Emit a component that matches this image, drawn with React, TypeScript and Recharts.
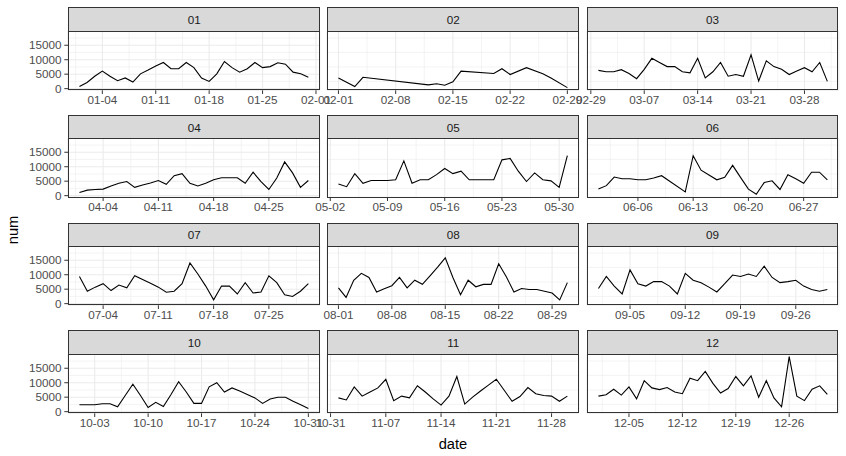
import React from "react";
import { LineChart, Line, XAxis, YAxis, CartesianGrid, ReferenceLine } from "recharts";

// facet labels (months of 2020)
const months = ["01", "02", "03", "04", "05", "06", "07", "08", "09", "10", "11", "12"];

// daily values, index 0 = day 1 of the month, null = no record that day
const num01 = [710, 2140, 4290, 6070, 4290, 2740, 3690, 2260, 5120, 6430, 7860, 9050, 6900, 6900, 9050, 7260, 3690, 2500, 5120, 9400, 7260, 5710, 6900, 9050, 7260, 7620, 8930, 8450, 5710, 5120, 3930];
const num02 = [3690, null, 710, 3930, null, null, null, null, null, null, null, 1310, 1670, 1190, 2380, 6070, null, null, null, 5240, 6900, 4880, null, 7260, null, 5120, 3690, null, 360];
const num03 = [6310, 5830, 5830, 6550, 5240, 3450, 6670, 10480, 9050, 7620, 7620, 5830, 5480, 10480, 3690, 5830, 9050, 4290, 4880, 4290, 11670, 2620, 9640, 7620, 6670, 4880, 6070, 7260, 5830, 9050, 2500];
const num04 = [1070, 1900, 2140, 2260, 3330, 4290, 4880, 2860, 3690, 4400, 5240, 3930, 6900, 7620, 4290, 3330, 4290, 5480, 6190, 6190, 6190, 4290, 8100, 4880, 2140, 6070, 11670, 7860, 2860, 5240];
const num05 = [null, null, 4050, 3100, 7620, 4290, 5240, 5240, 5240, 5480, 12020, 4290, 5480, 5480, 7260, 9400, 7620, 8450, 5480, 5480, 5480, 5480, 12380, 12860, 8450, 4880, 7860, 5480, 5120, 2860, 13810];
const num06 = [2260, 3450, 6430, 5830, 5830, 5480, 5480, 6070, 6900, null, null, 1310, 13810, 8810, 7140, 5480, 6310, 10480, 6310, 2260, 480, 4520, 5120, 2140, 7260, 5830, 4290, 8100, 8100, 5480];
const num07 = [9400, 4290, 5710, 6900, 4520, 6430, 5480, 9640, 8330, 7020, 5710, 3930, 4290, 6900, 14050, 10240, 6070, 1310, 6070, 6070, 3330, 7260, 3690, 4050, 9640, 7260, 3100, 2500, 4290, 6900];
const num08 = [5480, 2140, 8100, 10480, 9050, 4050, 5120, 6190, 9050, 5480, 8100, 6670, 9640, 12620, 15830, 9050, 3100, 8100, 5830, 6670, 6670, 13810, 9290, 4050, 5240, 4880, 4880, 4290, 3690, 1310, 7260];
const num09 = [5240, 9400, 6070, 3330, 11670, 6900, 6070, 7620, 7620, 6070, 3330, 10480, 8100, 7260, 5710, 4050, 6900, 9880, 9400, 10240, 9400, 12980, 9050, 7260, 7620, 8100, 6070, 4880, 4290, 4880];
const num10 = [2380, 2380, 2380, 2740, 2740, 1670, 5600, 9520, 5600, 1430, 3210, 1790, 5950, 10360, 6790, 2860, 2860, 8570, 10000, 6790, 8210, 7140, 5950, 4760, 2860, 4400, 5000, 5000, 3570, 2380, 1070];
const num11 = [4760, 4050, 8570, 5360, 6790, 8210, 11190, 3810, 5360, 4760, 8930, 6790, 4400, 2260, 5360, 12140, 2620, 5000, 7140, 9170, 11190, 7380, 3570, 5240, 8330, 6190, 5600, 5360, 3570, 5360];
const num12 = [5360, 5830, 7740, 5710, 8570, 4400, 10710, 8210, 7620, 8330, 6790, 6190, 11550, 10710, 13930, 9760, 6430, 7980, 12140, 8930, 12380, 5000, 10710, 4760, 1670, 19000, 5360, 3810, 7740, 8930, 5950];

// x tick labels per facet
const ticks01 = ["01-04", "01-11", "01-18", "01-25", "02-01"];
const ticks02 = ["02-01", "02-08", "02-15", "02-22", "02-29"];
const ticks03 = ["02-29", "03-07", "03-14", "03-21", "03-28"];
const ticks04 = ["04-04", "04-11", "04-18", "04-25"];
const ticks05 = ["05-02", "05-09", "05-16", "05-23", "05-30"];
const ticks06 = ["06-06", "06-13", "06-20", "06-27"];
const ticks07 = ["07-04", "07-11", "07-18", "07-25"];
const ticks08 = ["08-01", "08-08", "08-15", "08-22", "08-29"];
const ticks09 = ["09-05", "09-12", "09-19", "09-26"];
const ticks10 = ["10-03", "10-10", "10-17", "10-24", "10-31"];
const ticks11 = ["10-31", "11-07", "11-14", "11-21", "11-28"];
const ticks12 = ["12-05", "12-12", "12-19", "12-26"];

const yTicks = [0, 5000, 10000, 15000];
const yMinor = [2500, 7500, 12500, 17500];

const series = [num01, num02, num03, num04, num05, num06, num07, num08, num09, num10, num11, num12];
const tickLabels = [ticks01, ticks02, ticks03, ticks04, ticks05, ticks06, ticks07, ticks08, ticks09, ticks10, ticks11, ticks12];

// 2020 is a leap year: day-of-year offset of each month
const monthStart = [0, 31, 60, 91, 121, 152, 182, 213, 244, 274, 305, 335];

const toDay = (s: string) => {
  const [m, d] = s.split("-").map(Number);
  return monthStart[m - 1] + d;
};
const fmtDay = (n: number) => {
  let m = 11;
  while (m > 0 && n <= monthStart[m]) m--;
  const d = n - monthStart[m];
  return `${String(m + 1).padStart(2, "0")}-${String(d).padStart(2, "0")}`;
};

// shared y range, ggplot style 5% expansion
const allVals = series.flat().filter((v): v is number => v != null);
const yMin = Math.min(...allVals);
const yMax = Math.max(...allVals);
const yPad = (yMax - yMin) * 0.05;
const yDomain = [yMin - yPad, yMax + yPad];

const W = 251.8;
const COL_LEFT = [68.3, 327.4, 586.5];
const ROW_TOP = 7.3;
const ROW_STEP = 107.7;
const STRIP_H = 23.4;
const PLOT_H = 59.3;
const AXIS_H = 22;
const YAXIS_W = 60;
const FONT = "'Liberation Sans', Arial, sans-serif";

const Panel = ({ idx }: { idx: number }) => {
  const col = idx % 3;
  const row = Math.floor(idx / 3);
  const data = series[idx].map((v, i) => ({ day: monthStart[idx] + i + 1, num: v }));
  const present = data.filter((d) => d.num != null);
  const first = present[0].day;
  const last = present[present.length - 1].day;
  const pad = (last - first) * 0.05;
  const xDomain = [first - pad, last + pad];
  const ticks = tickLabels[idx].map(toDay);
  const minorX = [...ticks.map((t) => t - 3.5), ticks[ticks.length - 1] + 3.5].filter(
    (t) => t > xDomain[0] && t < xDomain[1]
  );
  const stripTop = ROW_TOP + row * ROW_STEP;
  const plotTop = stripTop + STRIP_H;
  const left = COL_LEFT[col];
  const yw = col === 0 ? YAXIS_W : 0;

  return (
    <>
      <div style={{ position: "absolute", left: left - yw, top: plotTop }}>
        <LineChart width={W + yw} height={PLOT_H + AXIS_H} data={data} margin={{ top: 0, right: 0, bottom: 0, left: 0 }}>
          <CartesianGrid stroke="#EBEBEB" strokeWidth={1.07} />
          {minorX.map((x) => (
            <ReferenceLine key={`mx${x}`} x={x} stroke="#EBEBEB" strokeWidth={0.53} />
          ))}
          {yMinor.map((y) => (
            <ReferenceLine key={`my${y}`} y={y} stroke="#EBEBEB" strokeWidth={0.53} />
          ))}
          <XAxis
            type="number"
            dataKey="day"
            domain={xDomain}
            ticks={ticks}
            interval={0}
            allowDataOverflow
            tickFormatter={fmtDay}
            height={AXIS_H}
            axisLine={false}
            tickSize={3.7}
            tickMargin={2}
            tickLine={{ stroke: "#333333" }}
            tick={{ fill: "#4D4D4D", fontSize: 11.7, fontFamily: FONT }}
          />
          <YAxis
            type="number"
            domain={yDomain}
            ticks={yTicks}
            interval={0}
            allowDataOverflow
            width={yw}
            axisLine={false}
            tickSize={3.7}
            tickMargin={2.9}
            tickLine={col === 0 ? { stroke: "#333333" } : false}
            tick={col === 0 ? { fill: "#4D4D4D", fontSize: 11.7, fontFamily: FONT } : false}
          />
          <Line
            type="linear"
            dataKey="num"
            stroke="#000000"
            strokeWidth={1.1}
            dot={false}
            connectNulls
            isAnimationActive={false}
          />
        </LineChart>
      </div>
      <div
        style={{
          position: "absolute",
          left,
          top: plotTop,
          width: W,
          height: PLOT_H,
          border: "1px solid #333333",
          boxSizing: "border-box",
          pointerEvents: "none",
        }}
      />
      <div
        style={{
          position: "absolute",
          left,
          top: stripTop,
          width: W,
          height: STRIP_H + 1,
          background: "#D9D9D9",
          border: "1px solid #333333",
          boxSizing: "border-box",
          display: "flex",
          alignItems: "center",
          justifyContent: "center",
          fontSize: 11.7,
          color: "#1A1A1A",
        }}
      >
        {months[idx]}
      </div>
    </>
  );
};

export default function App() {
  return (
    <div
      style={{
        position: "absolute",
        left: 0,
        top: 0,
        width: 846,
        height: 456,
        background: "#FFFFFF",
        fontFamily: FONT,
        overflow: "hidden",
      }}
    >
      <style>{`.recharts-surface{overflow:visible}`}</style>
      {months.map((m, i) => (
        <Panel key={m} idx={i} />
      ))}
      <div
        style={{
          position: "absolute",
          left: 13,
          top: 230,
          transform: "translate(-50%, -50%) rotate(-90deg)",
          fontSize: 14.7,
          color: "#000000",
        }}
      >
        num
      </div>
      <div
        style={{
          position: "absolute",
          left: 453,
          top: 444,
          transform: "translate(-50%, -50%)",
          fontSize: 14.7,
          color: "#000000",
        }}
      >
        date
      </div>
    </div>
  );
}
